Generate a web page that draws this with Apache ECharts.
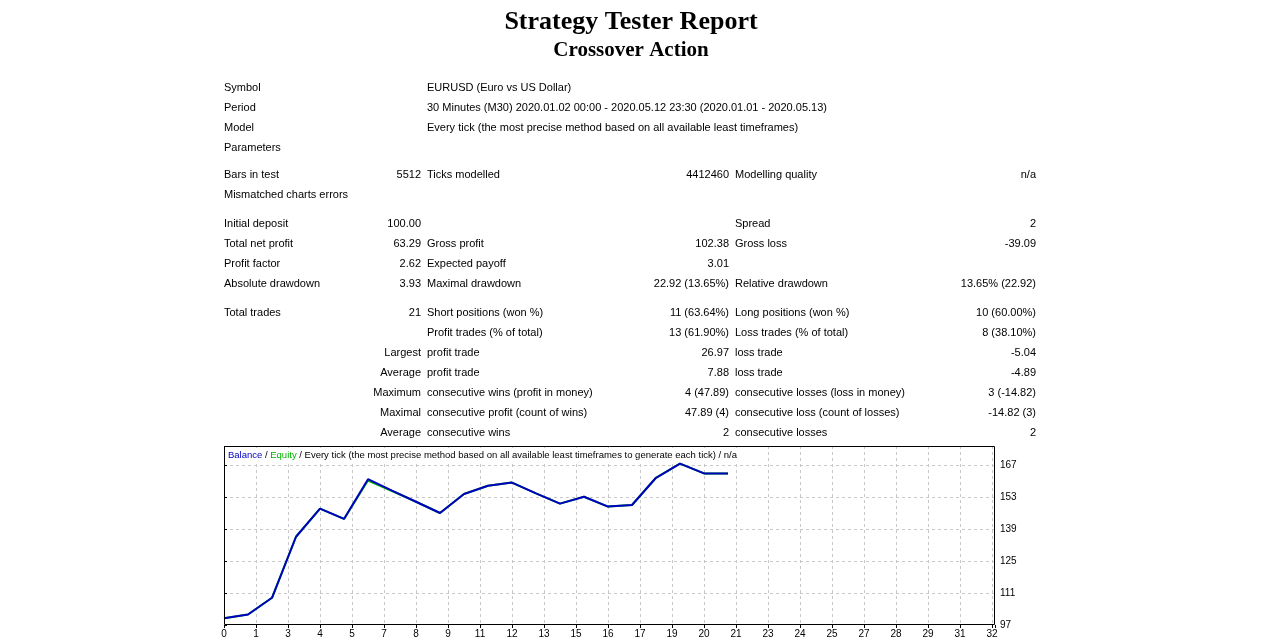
<!DOCTYPE html>
<html>
<head>
<meta charset="utf-8">
<script src="https://cdn.jsdelivr.net/npm/echarts@6/dist/echarts.min.js"></script>
<style>
  html, body { margin: 0; padding: 0; background: #fff; }
  #main { width: 1262px; height: 643px; }
</style>
</head>
<body>
<div id="main"></div>
<script>
// report header rows: label, value
var headerRows = [
    ['Symbol', 'EURUSD (Euro vs US Dollar)'],
    ['Period', '30 Minutes (M30) 2020.01.02 00:00 - 2020.05.12 23:30 (2020.01.01 - 2020.05.13)'],
    ['Model', 'Every tick (the most precise method based on all available least timeframes)'],
    ['Parameters', '']
];
// summary rows: 6 columns
var summaryRows = [
    ['Bars in test', '5512', 'Ticks modelled', '4412460', 'Modelling quality', 'n/a'],
    ['Mismatched charts errors', '', '', '', '', ''],
    ['Initial deposit', '100.00', '', '', 'Spread', '2'],
    ['Total net profit', '63.29', 'Gross profit', '102.38', 'Gross loss', '-39.09'],
    ['Profit factor', '2.62', 'Expected payoff', '3.01', '', ''],
    ['Absolute drawdown', '3.93', 'Maximal drawdown', '22.92 (13.65%)', 'Relative drawdown', '13.65% (22.92)'],
    ['Total trades', '21', 'Short positions (won %)', '11 (63.64%)', 'Long positions (won %)', '10 (60.00%)'],
    ['', '', 'Profit trades (% of total)', '13 (61.90%)', 'Loss trades (% of total)', '8 (38.10%)'],
    ['', 'Largest', 'profit trade', '26.97', 'loss trade', '-5.04'],
    ['', 'Average', 'profit trade', '7.88', 'loss trade', '-4.89'],
    ['', 'Maximum', 'consecutive wins (profit in money)', '4 (47.89)', 'consecutive losses (loss in money)', '3 (-14.82)'],
    ['', 'Maximal', 'consecutive profit (count of wins)', '47.89 (4)', 'consecutive loss (count of losses)', '-14.82 (3)'],
    ['', 'Average', 'consecutive wins', '2', 'consecutive losses', '2']
];
// balance / equity after each trade (trade 0 = initial deposit)
var trades = [0, 1, 2, 3, 4, 5, 6, 7, 8, 9, 10, 11, 12, 13, 14, 15, 16, 17, 18, 19, 20, 21];
var balance = [100, 101.6, 108.9, 135.6, 147.9, 143.4, 160.8, 155.8, 150.9, 146.0, 154.3, 157.9,
               159.3, 154.6, 150.1, 153.1, 148.8, 149.5, 161.4, 167.6, 163.3, 163.29];
var equity = [100, 101.6, 108.9, 135.6, 147.9, 143.4, 160.2, 155.6, 150.9, 146.0, 154.3, 157.9,
              159.3, 154.6, 150.1, 153.1, 148.8, 149.5, 161.4, 167.6, 163.3, 163.29];
var yTicks = [97, 111, 125, 139, 153, 167];

// layout
var headerY = [88, 108, 128, 148];
var summaryY = [175, 195, 224, 244, 264, 284, 313, 333, 353, 373, 393, 413, 433];
var colX = [224, 421, 427, 729, 735, 1036];
var colAlign = ['left', 'right', 'left', 'right', 'left', 'right'];
var font = '11px "Liberation Sans", Arial, sans-serif';

var chart = echarts.init(document.getElementById('main'));

var graphics = [];
headerRows.forEach(function (r, i) {
    graphics.push({ type: 'text', style: { x: 224, y: headerY[i], text: r[0], font: font, fill: '#000', verticalAlign: 'middle' } });
    graphics.push({ type: 'text', style: { x: 427, y: headerY[i], text: r[1], font: font, fill: '#000', verticalAlign: 'middle' } });
});
summaryRows.forEach(function (r, i) {
    r.forEach(function (t, c) {
        if (!t) return;
        // "Largest/Average/..." sit right aligned in the value column
        graphics.push({
            type: 'text',
            style: { x: colX[c], y: summaryY[i], text: t, font: font, fill: '#000', align: colAlign[c], verticalAlign: 'middle' }
        });
    });
});
// chart frame on top of the dashed grid
graphics.push({
    type: 'rect',
    z: 100,
    shape: { x: 224.5, y: 446.5, width: 770, height: 178 },
    style: { fill: null, stroke: '#000', lineWidth: 1 }
});

var option = {
    animation: false,
    backgroundColor: '#fff',
    title: [{
        text: 'Strategy Tester Report',
        left: 'center',
        top: 4,
        textStyle: { fontFamily: '"Liberation Serif", "Times New Roman", serif', fontSize: 26, fontWeight: 'bold', color: '#000' }
    }, {
        text: 'Crossover Action',
        left: 'center',
        top: 35,
        textStyle: { fontFamily: '"Liberation Serif", "Times New Roman", serif', fontSize: 21, fontWeight: 'bold', color: '#000' }
    }, {
        text: '{b|Balance} / {e|Equity} / Every tick (the most precise method based on all available least timeframes to generate each tick) / n/a',
        left: 226,
        top: 448,
        padding: [2, 2, 2, 2],
        backgroundColor: '#fff',
        textStyle: {
            fontFamily: '"Liberation Sans", Arial, sans-serif',
            fontSize: 9.5,
            fontWeight: 'normal',
            color: '#000',
            rich: {
                b: { color: '#0000c0', fontSize: 9.5, fontFamily: '"Liberation Sans", Arial, sans-serif' },
                e: { color: '#00b400', fontSize: 9.5, fontFamily: '"Liberation Sans", Arial, sans-serif' }
            }
        }
    }],
    grid: {
        left: 224,
        top: 446,
        width: 771,
        height: 179,
        show: true,
        borderColor: '#000',
        borderWidth: 0,
        backgroundColor: '#fff'
    },
    xAxis: {
        type: 'value',
        min: 0,
        max: 32.125,
        interval: 4 / 3,
        axisLine: { show: false },
        axisTick: { show: true, length: 3, lineStyle: { color: '#000' } },
        axisLabel: {
            fontSize: 10,
            color: '#000',
            margin: 4,
            fontFamily: '"Liberation Sans", Arial, sans-serif',
            formatter: function (v) { return v > 32.05 ? '' : String(Math.round(v)); }
        },
        splitLine: { show: true, showMinLine: false, showMaxLine: false, lineStyle: { color: '#c8c8c8', type: [3, 3] } }
    },
    yAxis: {
        type: 'value',
        position: 'right',
        min: 97,
        max: 175.3,
        interval: 14,
        axisLine: { show: false },
        axisTick: { show: true, length: 3, lineStyle: { color: '#000' } },
        axisLabel: {
            fontSize: 10,
            color: '#000',
            margin: 5,
            fontFamily: '"Liberation Sans", Arial, sans-serif',
            formatter: function (v) { return yTicks.indexOf(Math.round(v)) >= 0 && Math.abs(v - Math.round(v)) < 0.01 ? String(Math.round(v)) : ''; }
        },
        splitLine: { show: true, showMinLine: false, showMaxLine: false, lineStyle: { color: '#c8c8c8', type: [3, 3] } }
    },
    series: [{
        name: 'Equity',
        type: 'line',
        data: trades.map(function (t, i) { return [t, equity[i]]; }),
        symbol: 'none',
        lineStyle: { color: '#00b400', width: 2 },
        z: 2
    }, {
        name: 'Balance',
        type: 'line',
        data: trades.map(function (t, i) { return [t, balance[i]]; }),
        symbol: 'none',
        lineStyle: { color: '#0000c0', width: 2 },
        z: 3
    }],
    graphic: graphics
};
chart.setOption(option);
</script>
</body>
</html>
